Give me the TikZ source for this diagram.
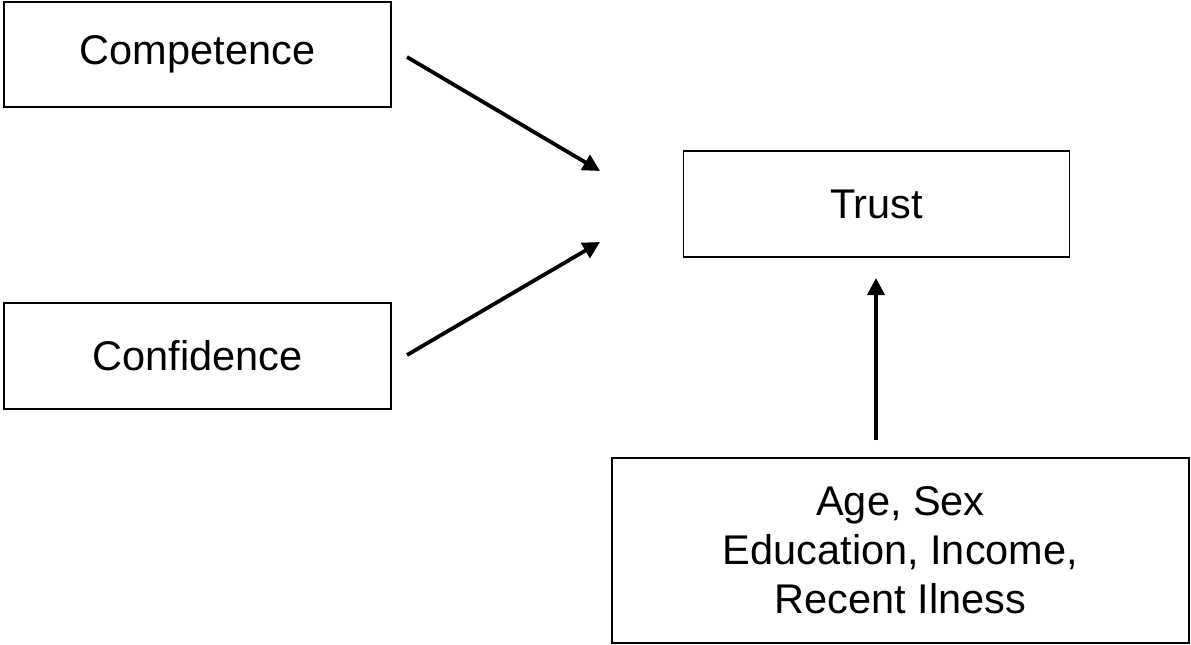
\documentclass[tikz,border=0pt]{standalone}
\usepackage{fontspec}
\setmainfont{Liberation Sans}
\usetikzlibrary{arrows.meta}
\begin{document}
\begin{tikzpicture}[x=1pt,y=-1pt,
  box/.style={draw=black,line width=1.8pt,rectangle,inner sep=0pt,align=center,
    font=\fontsize{41.5}{49}\selectfont},
  conn/.style={line width=3.8pt,-{Triangle[length=17pt,width=17pt]}}]
\useasboundingbox (0,0) rectangle (1191,645);
\node[box,minimum width=387pt,minimum height=105pt] (comp) at (197.5,54.5) {Competence};
\node[box,minimum width=387pt,minimum height=106pt] (conf) at (197.5,356) {Confidence};
\node[box,minimum width=386pt,minimum height=106pt] (trust) at (876.5,204) {Trust};
\node[box,minimum width=577pt,minimum height=185pt] (cov) at (900.5,550.5) {Age, Sex\\Education, Income,\\Recent Ilness};
\coordinate (s1) at (407,57);
\coordinate (e1) at (600,171);
\coordinate (s2) at (407,355);
\coordinate (e2) at (600,242);
\coordinate (s3) at (876,440);
\coordinate (e3) at (876,278);
\draw[conn] (s1) -- (e1);
\draw[conn] (s2) -- (e2);
\draw[conn] (s3) -- (e3);
\end{tikzpicture}
\end{document}
